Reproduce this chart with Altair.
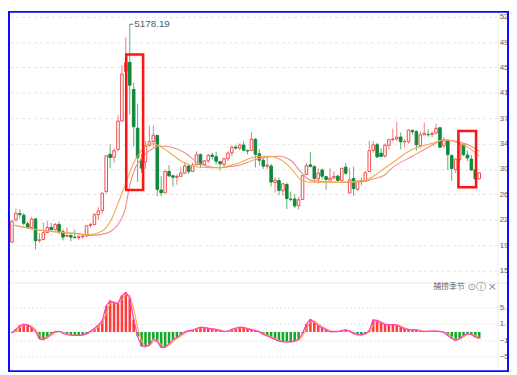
import altair as alt
import pandas as pd

# ---------------- data (monthly candles, Dec 2012 .. Nov 2022) ----------------
opens = [1960, 2289, 2382, 2357, 2231, 2174, 2302, 1984, 1998, 2101, 2175, 2142, 2219,
         2112, 2046, 2057, 2031, 2025, 2037, 2050, 2205, 2218, 2366, 2426, 2708,
         3258, 3212, 3330, 3748, 4479, 4616, 4214, 3643, 3157, 3143, 3384, 3446,
         3536, 2730, 2688, 3003, 2940, 2917, 2931, 2980, 3083, 3004, 3101, 3252,
         3106, 3160, 3245, 3222, 3149, 3106, 3192, 3278, 3363, 3349, 3395, 3316,
         3314, 3479, 3264, 3169, 3081, 3084, 2842, 2869, 2719, 2810, 2595, 2597,
         2497, 2590, 2956, 3101, 3075, 2892, 3025, 2926, 2875, 2906, 2934, 2871,
         3067, 2685, 2900, 2740, 2864, 2858, 3002, 3314, 3398, 3273, 3232, 3390,
         3475, 3484, 3513, 3443, 3441, 3611, 3592, 3384, 3545, 3548, 3550, 3572,
         3650, 3384, 3452, 3238, 3028, 3179, 3398, 3247, 3186, 3026, 2897]
highs = [2276, 2451, 2444, 2390, 2268, 2334, 2315, 2092, 2248, 2270, 2243, 2243, 2260,
         2150, 2177, 2077, 2146, 2061, 2076, 2202, 2248, 2391, 2474, 2683, 3239,
         3406, 3347, 3835, 4573, 4986, 5178.19, 4317, 4006, 3256, 3457, 3678, 3684,
         3539, 2934, 3019, 3097, 2955, 2963, 3070, 3140, 3100, 3134, 3302, 3273,
         3173, 3263, 3283, 3296, 3156, 3193, 3302, 3390, 3391, 3418, 3451, 3321,
         3587, 3495, 3334, 3221, 3219, 3115, 2916, 2915, 2827, 2839, 2704, 2666,
         2630, 2946, 3130, 3288, 3095, 3049, 3048, 2937, 3050, 3006, 2957, 3056,
         3127, 3058, 3074, 2863, 2915, 3006, 3458, 3454, 3425, 3348, 3417, 3474,
         3637, 3732, 3581, 3480, 3625, 3624, 3614, 3589, 3724, 3621, 3594, 3709,
         3651, 3511, 3481, 3257, 3195, 3425, 3424, 3310, 3247, 3070, 2990]
lows = [1945, 2264, 2309, 2205, 2162, 2164, 1850, 1951, 1988, 2100, 2132, 2132, 2077,
        1984, 2034, 1974, 2012, 1991, 2010, 2040, 2169, 2213, 2288, 2382, 2679,
        3049, 3133, 3303, 3748, 4199, 3847, 3373, 2850, 2983, 3039, 3377, 3361,
        2639, 2638, 2685, 2923, 2781, 2807, 2928, 2970, 2968, 3001, 3098, 3056,
        3091, 3129, 3179, 3104, 3017, 3067, 3157, 3228, 3327, 3317, 3303, 3254,
        3314, 3063, 3091, 3041, 3041, 2782, 2691, 2653, 2644, 2449, 2560, 2463,
        2441, 2585, 2953, 3060, 2838, 2822, 2883, 2733, 2874, 2891, 2857, 2857,
        2956, 2685, 2647, 2719, 2798, 2858, 3002, 3281, 3202, 3216, 3209, 3326,
        3447, 3454, 3329, 3357, 3415, 3547, 3312, 3344, 3545, 3516, 3504, 3549,
        3357, 3344, 3023, 2864, 2979, 3136, 3227, 3155, 3021, 2885, 2885]
closes = [2269, 2385, 2366, 2237, 2178, 2301, 1979, 1994, 2098, 2175, 2142, 2221, 2116,
          2033, 2056, 2033, 2026, 2039, 2048, 2202, 2217, 2364, 2420, 2683, 3235,
          3210, 3310, 3748, 4442, 4612, 4277, 3664, 3206, 3053, 3383, 3445, 3539,
          2738, 2688, 3004, 2938, 2917, 2930, 2979, 3085, 3005, 3100, 3250, 3104,
          3159, 3242, 3223, 3155, 3117, 3192, 3273, 3361, 3349, 3393, 3317, 3307,
          3481, 3259, 3169, 3082, 3095, 2847, 2876, 2725, 2821, 2603, 2588, 2494,
          2585, 2941, 3091, 3078, 2899, 2979, 2933, 2886, 2905, 2929, 2872, 3050,
          2977, 2880, 2750, 2860, 2852, 2985, 3310, 3396, 3218, 3225, 3392, 3473,
          3483, 3509, 3442, 3447, 3615, 3591, 3397, 3544, 3568, 3547, 3564, 3640,
          3361, 3462, 3252, 3047, 3186, 3399, 3253, 3202, 3024, 2893, 2982]

# "捕捞季节" indicator bars (one per candle)
indicator = [-0.2, 0.6, 1.5, 1.8, 1.6, 1.0, 0.1, -1.6, -1.8, -1.1, -0.4, 0.1, 0.15,
             -0.3, -0.6, -0.75, -0.8, -0.8, -0.7, -0.4, 0.2, 0.8, 1.6, 2.6, 6.0,
             7.2, 6.7, 6.6, 8.4, 9.1, 7.8, 2.9, -1.0, -3.3, -3.4, -3.0, -1.6,
             -2.2, -3.6, -3.5, -2.7, -1.8, -1.3, -0.6, 0.0, 0.3, 0.4, 0.8, 1.1,
             1.0, 0.8, 0.7, 0.55, 0.3, 0.1, 0.2, 0.6, 0.9, 1.1, 1.0, 0.7,
             0.5, 0.3, 0.0, -0.56, -0.9, -1.3, -1.7, -2.1, -2.3, -2.3, -2.3, -2.1,
             -1.7, -0.3, 1.8, 2.9, 2.2, 1.45, 0.93, 0.5, 0.05, 0.1, 0.1, 0.3,
             0.5, 0.1, -0.4, -0.7, -0.7, -0.4, 0.3, 2.8, 2.6, 2.1, 1.7, 1.7,
             1.7, 1.6, 1.1, 0.7, 0.56, 0.5, 0.5, 0.2, 0.1, 0.2, 0.2, 0.2,
             0.1, -0.1, -0.8, -1.5, -2.0, -1.5, -0.8, -0.4, -0.6, -1.2, -1.5]

# moving-average lines (candle position, price)
fast_ma_idx = [0.24, 8.2, 16.5, 19.6, 22.0, 23.7, 25.7, 26.9, 28.8, 31.0, 32.5, 34.2, 36.1,
               37.3, 39.0, 40.7, 43.1, 45.6, 48.0, 50.4, 52.8, 55.2, 58.4, 60.8, 63.2,
               65.7, 68.1, 71.2, 73.7, 76.1, 83.4, 89.9, 92.3, 94.7, 97.2, 102.0,
               106.9, 110.0, 113.4, 116.6, 119.0]
fast_ma_val = [2213, 2127, 2085, 2070, 2099, 2156, 2342, 2514, 2800, 3129, 3272, 3387, 3416,
               3387, 3330, 3258, 3158, 3093, 3065, 3058, 3058, 3086, 3144, 3201, 3229,
               3229, 3186, 3043, 2872, 2843, 2843, 2872, 2943, 3043, 3144, 3330,
               3416, 3473, 3430, 3344, 3229]
slow_ma_idx = [0.24, 8.2, 16.5, 19.6, 23.7, 25.7, 27.6, 28.8, 30.0, 31.3, 33.4, 35.9, 37.8,
               39.7, 42.2, 44.6, 47.0, 49.4, 52.8, 55.2, 58.4, 61.5, 64.9, 68.1, 71.2,
               73.7, 76.1, 83.4, 89.9, 92.3, 94.7, 97.2, 102.0, 106.9, 110.0, 113.4,
               116.6, 119.0]
slow_ma_val = [2213, 2127, 2085, 2056, 2085, 2142, 2270, 2440, 2800, 3043, 3229, 3344, 3380,
               3372, 3330, 3258, 3144, 3086, 3058, 3072, 3101, 3172, 3215, 3229, 3158,
               2986, 2872, 2843, 2857, 2900, 2943, 3072, 3229, 3387, 3473, 3444,
               3387, 3301]

price_ticks = [1540, 1915, 2290, 2665, 3040, 3415, 3790, 4165, 4540, 4915, 5290]
ind_ticks = [-5.7, -1.9, 1.9, 5.7]

peak_pos = [30]
peak_val = [5178.19]
peak_text = ["5178.19"]

box_left = [29.1, 113.7]
box_right = [33.4, 118.2]
box_top = [4732, 3601]
box_bottom = [2729, 2771]

indicator_name = "捕捞季节"

# ---------------- styling ----------------
W, H = 509, 367
FONT = "Liberation Sans"
CJK = "Noto Sans CJK SC"
RED = "#f04848"
RED_WICK = "#f07a7a"
GREEN = "#11893a"
GREEN_WICK = "#58b466"
BAR_RED = "#ff3b3b"
BAR_GREEN = "#14aa28"

n = len(closes)
candles = pd.DataFrame({"i": list(range(n)), "open": opens, "high": highs,
                        "low": lows, "close": closes, "ind": indicator})
fast_df = pd.DataFrame({"i": fast_ma_idx, "v": fast_ma_val})
slow_df = pd.DataFrame({"i": slow_ma_idx, "v": slow_ma_val})
peak_df = pd.DataFrame({"i": peak_pos, "i2": [p + 0.9 for p in peak_pos],
                        "p": peak_val, "label": peak_text})
box_df = pd.DataFrame({"x1": box_left, "x2": box_right, "top": box_top, "bottom": box_bottom})
one = pd.DataFrame({"k": [0]})

x_scale = alt.Scale(domain=[0.2423, 125.33], nice=False, zero=False)
p_scale = alt.Scale(domain=[38.6, 5375.9], nice=False, zero=False)
m_scale = alt.Scale(domain=[-9.27, 74.09], nice=False, zero=False)

# the panel's right edge only shows the first two characters of each tick label
axis_common = dict(orient="right", format=".2f", offset=-10, domain=False, ticks=False,
                   labelPadding=0, labelFontSize=8, labelColor="#666666", labelFont=FONT,
                   labelFlush=False, labelAlign="left", labelBaseline="middle",
                   labelExpr="slice(datum.label, 0, 2)", labelOverlap=False, gridWidth=1)
p_axis = alt.Axis(values=price_ticks, grid=True, gridColor="#e3e3e3", gridDash=[3, 3], **axis_common)
m_axis = alt.Axis(values=ind_ticks, grid=True, gridColor="#cfcfcf", gridDash=[1, 3], **axis_common)

X = alt.X("i:Q", scale=x_scale, axis=None)
UP = alt.datum.close >= alt.datum.open

wick = alt.Chart(candles).mark_rule(strokeWidth=1).encode(
    x=X,
    y=alt.Y("low:Q", scale=p_scale, axis=p_axis, title=None),
    y2="high:Q",
    color=alt.condition(UP, alt.value(RED_WICK), alt.value(GREEN_WICK)),
)
body = alt.Chart(candles).mark_bar(size=2.6, strokeWidth=1).encode(
    x=X,
    y=alt.Y("open:Q", scale=p_scale, axis=p_axis, title=None),
    y2="close:Q",
    fill=alt.condition(UP, alt.value("#ffffff"), alt.value(GREEN)),
    stroke=alt.condition(UP, alt.value(RED), alt.value(GREEN)),
)
ma_slow = alt.Chart(slow_df).mark_line(color="#f28c8c", strokeWidth=1.1, interpolate="monotone").encode(
    x=X, y=alt.Y("v:Q", scale=p_scale, axis=p_axis, title=None))
ma_fast = alt.Chart(fast_df).mark_line(color="#f4a848", strokeWidth=1.1, interpolate="monotone").encode(
    x=X, y=alt.Y("v:Q", scale=p_scale, axis=p_axis, title=None))
boxes = alt.Chart(box_df).mark_rect(filled=False, stroke="#ff1414", strokeWidth=2.6).encode(
    x=alt.X("x1:Q", scale=x_scale, axis=None), x2="x2:Q",
    y=alt.Y("top:Q", scale=p_scale, axis=p_axis, title=None), y2="bottom:Q")
peak_line = alt.Chart(peak_df).mark_rule(color="#50657a", strokeWidth=1).encode(
    x=X, x2="i2:Q", y=alt.Y("p:Q", scale=p_scale, axis=p_axis, title=None))
peak_lbl = alt.Chart(peak_df).mark_text(align="left", baseline="middle", dx=1, fontSize=10,
                                        font=FONT, color="#4a5d70").encode(
    x=alt.X("i2:Q", scale=x_scale, axis=None),
    y=alt.Y("p:Q", scale=p_scale, axis=p_axis, title=None), text="label:N")

main = alt.layer(wick, body, ma_slow, ma_fast, boxes, peak_line, peak_lbl)

MY = alt.Y("ind:Q", scale=m_scale, axis=m_axis, title=None)
ind_bars = alt.Chart(candles).mark_bar(size=2.6).encode(
    x=X, y=MY, y2=alt.datum(0),
    color=alt.condition(alt.datum.ind >= 0, alt.value(BAR_RED), alt.value(BAR_GREEN)),
)
ind_line2 = alt.Chart(candles).transform_window(
    ind2="mean(ind)", frame=[-1, 0], sort=[alt.SortField("i")]
).mark_line(color="#ffa82e", strokeWidth=1.1).encode(
    x=X, y=alt.Y("ind2:Q", scale=m_scale, axis=m_axis, title=None))
ind_line1 = alt.Chart(candles).mark_line(color="#ff3fd8", strokeWidth=1.3).encode(x=X, y=MY)

# ---------------- decorations (panel chrome) ----------------
sep = alt.Chart(one).mark_rule(color="#e8e8e8", strokeWidth=1).encode(
    x=alt.value(0), x2=alt.value(W), y=alt.value(276.5))
vline = alt.Chart(one).mark_rule(color="#ececec", strokeWidth=1).encode(
    x=alt.value(498), y=alt.value(0), y2=alt.value(H))
name_txt = alt.Chart(one).mark_text(align="right", baseline="middle", fontSize=8, font=CJK,
                                    color="#666666").encode(
    x=alt.value(464), y=alt.value(280.5), text=alt.value(indicator_name))
icon1 = alt.Chart(one).mark_text(align="center", baseline="middle", fontSize=10, font="DejaVu Sans",
                                 color="#888888").encode(
    x=alt.value(471), y=alt.value(280.5), text=alt.value("⊙"))
icon2t = alt.Chart(one).mark_text(align="center", baseline="middle", fontSize=10, font="DejaVu Sans",
                                  color="#888888").encode(
    x=alt.value(481), y=alt.value(280.5), text=alt.value("ⓘ"))
icon3 = alt.Chart(one).mark_text(align="center", baseline="middle", fontSize=11, font="DejaVu Sans",
                                 color="#888888").encode(
    x=alt.value(492), y=alt.value(280.5), text=alt.value("×"))
frame = alt.Chart(one).mark_rect(filled=False, stroke="#0a0aff", strokeWidth=2).encode(
    x=alt.value(1), x2=alt.value(W - 1), y=alt.value(1), y2=alt.value(H - 1))

ind = alt.layer(ind_bars, ind_line2, ind_line1, sep, vline, name_txt, icon1, icon2t, icon3, frame)

chart = alt.layer(main, ind).resolve_scale(y="independent").properties(
    width=W, height=H, padding=0,
    autosize=alt.AutoSizeParams(type="none"),
).configure_view(strokeWidth=0)

chart.save("out.html", embed_options={"renderer": "svg", "actions": False})
